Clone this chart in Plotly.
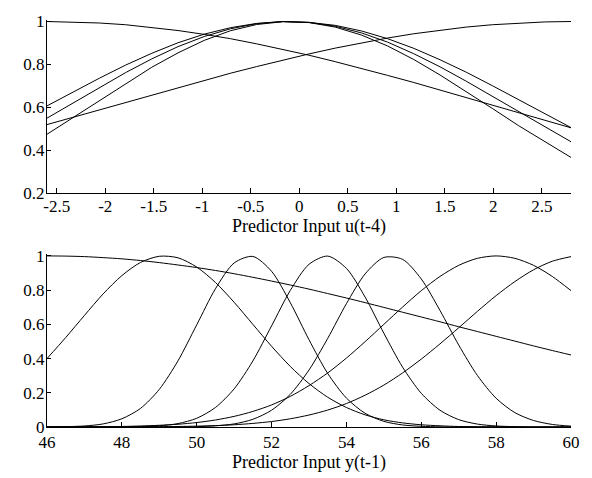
import plotly.graph_objects as go

# ---- top panel: Predictor Input u(t-4) ----
x_top = [-2.6, -2.33, -2.06, -1.79, -1.52, -1.25, -0.98, -0.71, -0.44, -0.17, 0.1,
         0.37, 0.64, 0.91, 1.18, 1.45, 1.72, 1.99, 2.26, 2.53, 2.8]
top_mf1 = [1.000, 0.998, 0.993, 0.985, 0.973, 0.958, 0.940, 0.920, 0.896, 0.871, 0.843,
           0.813, 0.782, 0.749, 0.716, 0.681, 0.646, 0.611, 0.575, 0.540, 0.505]
top_mf2 = [0.520, 0.554, 0.589, 0.624, 0.658, 0.692, 0.726, 0.759, 0.790, 0.821, 0.849,
           0.876, 0.901, 0.923, 0.943, 0.960, 0.974, 0.985, 0.993, 0.998, 1.000]
top_mf3 = [0.607, 0.672, 0.736, 0.797, 0.852, 0.901, 0.941, 0.971, 0.991, 1.000, 0.996,
           0.982, 0.956, 0.920, 0.875, 0.822, 0.764, 0.701, 0.636, 0.571, 0.506]
top_mf4 = [0.550, 0.622, 0.693, 0.762, 0.826, 0.883, 0.930, 0.966, 0.990, 1.000, 0.996,
           0.978, 0.947, 0.904, 0.850, 0.789, 0.722, 0.652, 0.580, 0.509, 0.440]
top_mf5 = [0.475, 0.553, 0.633, 0.712, 0.787, 0.854, 0.912, 0.957, 0.986, 0.999, 0.995,
           0.974, 0.937, 0.886, 0.823, 0.751, 0.674, 0.595, 0.515, 0.439, 0.367]

# ---- bottom panel: Predictor Input y(t-1) ----
x_bot = [46, 46.5, 47, 47.5, 48, 48.5, 49, 49.5, 50, 50.5, 51, 51.5, 52, 52.5, 53,
         53.5, 54, 54.5, 55, 55.5, 56, 56.5, 57, 57.5, 58, 58.5, 59, 59.5, 60]
bot_mf1 = [1.000, 0.999, 0.996, 0.990, 0.983, 0.973, 0.961, 0.947, 0.932, 0.915, 0.896,
           0.875, 0.853, 0.830, 0.806, 0.780, 0.754, 0.727, 0.699, 0.671, 0.643, 0.615,
           0.586, 0.558, 0.530, 0.502, 0.474, 0.447, 0.421]
bot_mf2 = [0.400, 0.523, 0.652, 0.778, 0.885, 0.962, 0.998, 0.989, 0.935, 0.845, 0.729,
           0.600, 0.472, 0.354, 0.254, 0.174, 0.114, 0.071, 0.042, 0.024, 0.013, 0.007,
           0.003, 0.002, 0.001, 0.000, 0.000, 0.000, 0.000]
bot_mf3 = [0.000, 0.002, 0.006, 0.018, 0.048, 0.109, 0.220, 0.387, 0.597, 0.808, 0.959,
           0.997, 0.910, 0.727, 0.510, 0.313, 0.169, 0.080, 0.033, 0.012, 0.004, 0.001,
           0.000, 0.000, 0.000, 0.000, 0.000, 0.000, 0.000]
bot_mf4 = [0.000, 0.000, 0.000, 0.000, 0.001, 0.002, 0.007, 0.020, 0.051, 0.114, 0.223,
           0.386, 0.591, 0.798, 0.951, 0.999, 0.927, 0.759, 0.548, 0.350, 0.197, 0.098,
           0.043, 0.017, 0.006, 0.002, 0.000, 0.000, 0.000]
bot_mf5 = [0.000, 0.000, 0.000, 0.000, 0.000, 0.000, 0.000, 0.001, 0.002, 0.007, 0.018,
           0.045, 0.098, 0.191, 0.333, 0.518, 0.721, 0.895, 0.991, 0.980, 0.865, 0.681,
           0.479, 0.301, 0.168, 0.084, 0.038, 0.015, 0.005]
bot_mf6 = [0.000, 0.001, 0.001, 0.002, 0.003, 0.006, 0.010, 0.016, 0.026, 0.041, 0.062,
           0.091, 0.129, 0.179, 0.242, 0.316, 0.403, 0.499, 0.600, 0.701, 0.797, 0.880,
           0.945, 0.986, 1.000, 0.986, 0.945, 0.880, 0.797]
bot_mf7 = [0.000, 0.000, 0.000, 0.000, 0.001, 0.001, 0.002, 0.003, 0.005, 0.008, 0.013,
           0.021, 0.032, 0.048, 0.070, 0.099, 0.137, 0.186, 0.245, 0.316, 0.397, 0.486,
           0.580, 0.676, 0.768, 0.850, 0.919, 0.969, 0.996]

top_ticks = [-2.5, -2, -1.5, -1, -0.5, 0, 0.5, 1, 1.5, 2, 2.5]
top_tick_text = ["-2.5", "-2", "-1.5", "-1", "-0.5", "0", "0.5", "1", "1.5", "2", "2.5"]
bot_ticks = [46, 48, 50, 52, 54, 56, 58, 60]
top_y_ticks = [0.2, 0.4, 0.6, 0.8, 1]
bot_y_ticks = [0, 0.2, 0.4, 0.6, 0.8, 1]

FONT = "Liberation Serif, Times New Roman, serif"
line = dict(color="black", width=1)

fig = go.Figure()
for ys in [top_mf1, top_mf2, top_mf3, top_mf4, top_mf5]:
    fig.add_trace(go.Scatter(x=x_top, y=ys, mode="lines", line=line,
                             xaxis="x", yaxis="y", showlegend=False, hoverinfo="skip"))
for ys in [bot_mf1, bot_mf2, bot_mf3, bot_mf4, bot_mf5, bot_mf6, bot_mf7]:
    fig.add_trace(go.Scatter(x=x_bot, y=ys, mode="lines",
                             line=dict(color="black", width=1, shape="spline", smoothing=0.8),
                             xaxis="x2", yaxis="y2", showlegend=False, hoverinfo="skip"))

axis_common = dict(showline=True, linecolor="black", linewidth=1, mirror=False,
                   showgrid=False, zeroline=False, ticks="inside", tickcolor="black",
                   tickwidth=1, tickfont=dict(family=FONT, size=17, color="black"))
title_font = dict(family=FONT, size=18, color="black")

fig.update_layout(
    width=592, height=478,
    margin=dict(l=47, r=16, t=12, b=48),
    paper_bgcolor="white", plot_bgcolor="white",
    xaxis=dict(domain=[0, 1], anchor="y", range=[-2.6, 2.8],
               tickvals=top_ticks, ticktext=top_tick_text, ticklen=5, ticklabelstandoff=-3,
               title=dict(text="Predictor Input u(t-4)", standoff=3, font=title_font),
               **axis_common),
    yaxis=dict(domain=[0.5742, 1], anchor="x", range=[0.2, 1.007],
               tickvals=top_y_ticks, ticklen=4, ticklabelstandoff=-2, **axis_common),
    xaxis2=dict(domain=[0, 1], anchor="y2", range=[46, 60],
                tickvals=bot_ticks, ticklen=5, ticklabelstandoff=0,
                title=dict(text="Predictor Input y(t-1)", standoff=1, font=title_font),
                **axis_common),
    yaxis2=dict(domain=[0, 0.4258], anchor="x2", range=[0, 1.013],
                tickvals=bot_y_ticks, ticklen=4, ticklabelstandoff=-2, **axis_common),
)

fig.write_html("out.html")
